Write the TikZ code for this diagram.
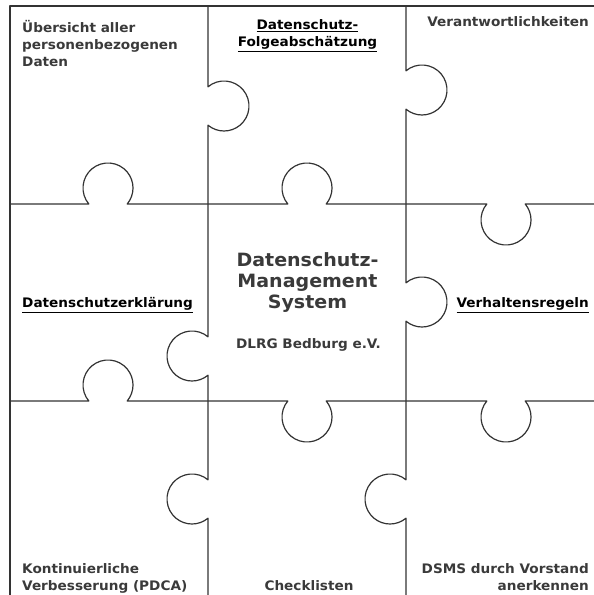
\documentclass[tikz,border=0pt]{standalone}
\usepackage{fontspec}
\setmainfont{DejaVu Sans}[FakeStretch=1.04]
\definecolor{ink}{HTML}{333333}
\definecolor{txt}{HTML}{3A3A3A}
\tikzset{
  cut/.style={draw=ink, line width=1.2pt, line join=round},
  lbl/.style={inner sep=0pt, text=txt, font=\bfseries\fontsize{13.1}{17}\selectfont},
  head/.style={inner sep=0pt, text=txt, font=\bfseries\fontsize{18.3}{19}\selectfont, align=center}
}
\begin{document}
\begin{tikzpicture}[x=1pt,y=1pt]
  \useasboundingbox (0,0) rectangle (594,595);
  \clip (0,0) rectangle (594,595);
  \draw[cut] (600,589) -- (10,589) -- (10,-5);
  \draw[cut] (10,391) -- (88.8,391) arc[start angle=219.8, end angle=-39.8, radius=25]
    -- (287.8,391) arc[start angle=219.8, end angle=-39.8, radius=25]
    -- (486.8,391) arc[start angle=140.2, end angle=399.8, radius=25] -- (600,391);
  \draw[cut] (10,194) -- (88.8,194) arc[start angle=219.8, end angle=-39.8, radius=25]
    -- (287.8,194) arc[start angle=140.2, end angle=399.8, radius=25]
    -- (486.8,194) arc[start angle=140.2, end angle=399.8, radius=25] -- (600,194);
  \draw[cut] (208,589) -- (208,508.2) arc[start angle=129.8, end angle=-129.8, radius=25]
    -- (208,258.2) arc[start angle=50.2, end angle=309.8, radius=25]
    -- (208,115.2) arc[start angle=50.2, end angle=309.8, radius=25] -- (208,-5);
  \draw[cut] (406,589) -- (406,524.2) arc[start angle=129.8, end angle=-129.8, radius=25]
    -- (406,312.2) arc[start angle=129.8, end angle=-129.8, radius=25]
    -- (406,115.2) arc[start angle=50.2, end angle=309.8, radius=25] -- (406,-5);

  \node[lbl, anchor=base west, align=left] (daten) at (22,528) {Übersicht aller\\personenbezogenen\\Daten};
  \node[lbl, anchor=base, align=center, text=black] (dsfa) at (307.5,548) {\underline{Datenschutz-}\\\underline{Folgeabschätzung}};
  \node[lbl, anchor=base east] (verant) at (589,568) {Verantwortlichkeiten};
  \node[lbl, anchor=base west, text=black] (dse) at (22,287) {\underline{Datenschutzerklärung}};
  \node[head, anchor=base] (dsms) at (307.5,286) {Datenschutz-\\[2pt]Management\\[2pt]System};
  \node[lbl, anchor=base] (dlrg) at (308.5,246) {DLRG Bedburg e.V.};
  \node[lbl, anchor=base east, text=black] (regeln) at (589,287) {\underline{Verhaltensregeln}};
  \node[lbl, anchor=base west, align=left] (pdca) at (22,5) {Kontinuierliche\\Verbesserung (PDCA)};
  \node[lbl, anchor=base] (check) at (309,5) {Checklisten};
  \node[lbl, anchor=base east, align=right] (vorstand) at (589,5) {DSMS durch Vorstand\\anerkennen};
\end{tikzpicture}
\end{document}
